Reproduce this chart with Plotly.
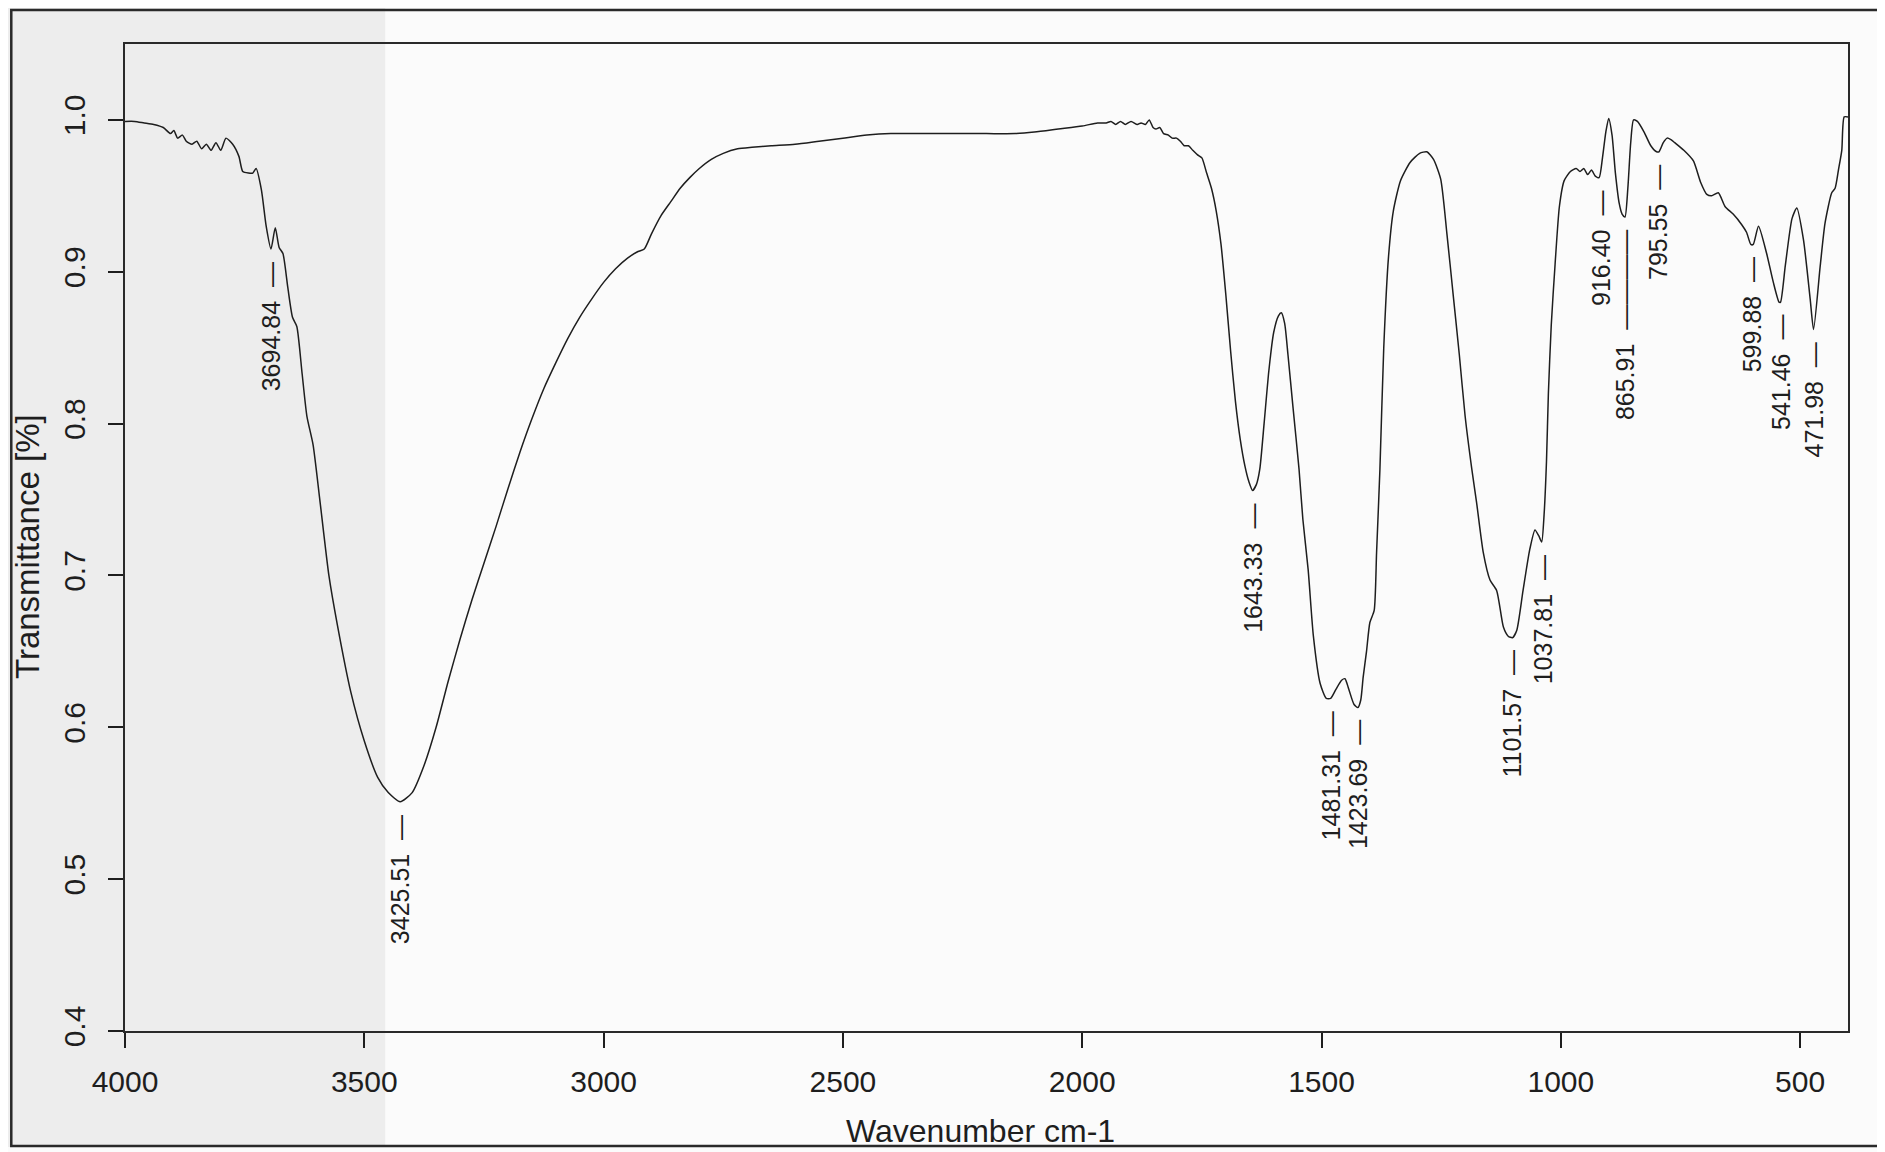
import plotly.graph_objects as go

# ---------------- data ----------------
wavenumber = [
    4000, 3980, 3960, 3940, 3920, 3905, 3898, 3890, 3880, 3872, 3860, 3850, 3840, 3830, 3820,
    3810, 3800, 3789, 3775, 3762, 3754, 3742, 3733, 3726, 3715, 3705, 3695, 3686, 3678, 3670,
    3660, 3650, 3641, 3630, 3620, 3607, 3593, 3574, 3556, 3528, 3500, 3472, 3450, 3425, 3400,
    3375, 3350, 3325, 3300, 3275, 3250, 3225, 3200, 3175, 3150, 3125, 3100, 3075, 3050, 3025,
    3000, 2975, 2950, 2930, 2915, 2900, 2880, 2860, 2840, 2820, 2800, 2775, 2750, 2720, 2690,
    2650, 2600, 2550, 2500, 2450, 2400, 2300, 2200, 2140, 2100, 2050, 2000, 1968, 1950, 1940,
    1930, 1920, 1910, 1898, 1885, 1877, 1868, 1860, 1852, 1846, 1838, 1830, 1820, 1812, 1803,
    1795, 1787, 1778, 1769, 1759, 1750, 1740, 1730, 1720, 1710, 1700, 1690, 1680, 1670, 1660,
    1652, 1644, 1636, 1629, 1620, 1610, 1600, 1590, 1584, 1577, 1570, 1560, 1547, 1539, 1528,
    1517, 1503, 1490, 1481, 1470, 1458, 1451, 1443, 1432, 1424, 1418, 1413, 1406, 1399, 1390,
    1385, 1378, 1370, 1360, 1350, 1335, 1315, 1295, 1280, 1266, 1251, 1238, 1225, 1212, 1200,
    1186, 1176, 1162, 1148, 1134, 1120, 1110, 1101, 1092, 1079, 1065, 1054, 1046, 1040, 1035,
    1030, 1026, 1020, 1012, 1003, 993, 980, 968, 960, 952, 944, 936, 928, 920, 913,
    906, 900, 893, 886, 878, 872, 866, 860, 854, 848, 840, 826, 812, 800, 795,
    786, 778, 770, 762, 743, 723, 708, 695, 685, 671, 657, 640, 622, 612, 603,
    598, 587, 570, 556, 544, 541, 531, 517, 507, 493, 479, 472, 458, 448, 434,
    427, 420, 413, 408, 400,
]
transmittance = [
    0.999, 0.999, 0.998, 0.997, 0.995, 0.991, 0.993, 0.988, 0.990, 0.986, 0.984, 0.986, 0.981, 0.984, 0.980,
    0.985, 0.980, 0.988, 0.984, 0.976, 0.966, 0.965, 0.965, 0.968, 0.954, 0.930, 0.915, 0.929, 0.916, 0.912,
    0.890, 0.870, 0.864, 0.833, 0.805, 0.786, 0.750, 0.700, 0.667, 0.623, 0.591, 0.567, 0.557, 0.551, 0.557,
    0.575, 0.600, 0.630, 0.658, 0.684, 0.708, 0.732, 0.757, 0.781, 0.803, 0.823, 0.840, 0.856, 0.870, 0.882,
    0.893, 0.902, 0.909, 0.913, 0.915, 0.925, 0.937, 0.946, 0.955, 0.962, 0.968, 0.974, 0.978, 0.981, 0.982,
    0.983, 0.984, 0.986, 0.988, 0.990, 0.991, 0.991, 0.991, 0.991, 0.992, 0.994, 0.996, 0.998, 0.998, 0.999,
    0.997, 0.999, 0.997, 0.999, 0.997, 0.998, 0.997, 1.000, 0.995, 0.994, 0.995, 0.991, 0.990, 0.988, 0.988,
    0.986, 0.983, 0.983, 0.980, 0.977, 0.975, 0.965, 0.955, 0.940, 0.918, 0.885, 0.848, 0.815, 0.790, 0.772,
    0.762, 0.756, 0.760, 0.770, 0.800, 0.835, 0.860, 0.871, 0.873, 0.866, 0.845, 0.812, 0.770, 0.737, 0.704,
    0.660, 0.629, 0.619, 0.619, 0.625, 0.631, 0.632, 0.625, 0.615, 0.613, 0.618, 0.633, 0.650, 0.669, 0.677,
    0.715, 0.770, 0.850, 0.910, 0.940, 0.960, 0.972, 0.978, 0.979, 0.974, 0.961, 0.925, 0.885, 0.845, 0.805,
    0.770, 0.748, 0.715, 0.697, 0.690, 0.666, 0.660, 0.659, 0.664, 0.690, 0.717, 0.730, 0.726, 0.722, 0.740,
    0.775, 0.820, 0.865, 0.905, 0.943, 0.960, 0.966, 0.968, 0.966, 0.968, 0.964, 0.967, 0.963, 0.962, 0.975,
    0.992, 1.001, 0.990, 0.965, 0.945, 0.938, 0.936, 0.955, 0.985, 1.000, 0.999, 0.992, 0.983, 0.979, 0.979,
    0.985, 0.988, 0.987, 0.985, 0.980, 0.973, 0.959, 0.951, 0.950, 0.952, 0.943, 0.938, 0.931, 0.926, 0.918,
    0.918, 0.930, 0.912, 0.893, 0.880, 0.880, 0.904, 0.935, 0.942, 0.921, 0.882, 0.862, 0.904, 0.932, 0.952,
    0.955, 0.967, 0.980, 1.002, 1.002,
]

peak_wavenumber = [3694.84, 3425.51, 1643.33, 1481.31, 1423.69, 1101.57, 1037.81,
                   916.40, 865.91, 795.55, 599.88, 541.46, 471.98]
peak_transmittance = [0.9145, 0.551, 0.756, 0.619, 0.613, 0.659, 0.722,
                      0.962, 0.936, 0.979, 0.918, 0.880, 0.862]

x_ticks = [4000, 3500, 3000, 2500, 2000, 1500, 1000, 500]
y_ticks = [0.4, 0.5, 0.6, 0.7, 0.8, 0.9, 1.0]
y_tick_text = ["0.4", "0.5", "0.6", "0.7", "0.8", "0.9", "1.0"]

x_title = "Wavenumber cm-1"
y_title = "Transmittance [%]"

# ---------------- style ----------------
FONT = "Liberation Sans, Arial, Helvetica, sans-serif"
INK = "#1e1e1e"
leader_dashes = [1, 1, 1, 1, 1, 1, 1, 1, 4, 1, 1, 1, 1]   # length of each label's leader

fig = go.Figure()
fig.add_trace(go.Scatter(
    x=wavenumber, y=transmittance, mode="lines",
    line=dict(color=INK, width=1.5, shape="spline", smoothing=0.6),
    hoverinfo="skip", showlegend=False,
))

annotations = []
for wn, t, nd in zip(peak_wavenumber, peak_transmittance, leader_dashes):
    annotations.append(dict(
        x=wn, y=t, xref="x", yref="y", showarrow=False,
        text=f"{wn:.2f}" + "\u00a0\u00a0" + "\u2014" * nd,
        textangle=-90, xanchor="center", yanchor="top", yshift=-11,
        font=dict(family=FONT, size=25, color=INK),
    ))

annotations.append(dict(
    x=-0.0565, y=0.491, xref="paper", yref="paper", showarrow=False,
    text=y_title, textangle=-90, xanchor="center", yanchor="middle",
    font=dict(family=FONT, size=33, color=INK),
))
annotations.append(dict(
    x=0.4968, y=-0.1015, xref="paper", yref="paper", showarrow=False,
    text=x_title, xanchor="center", yanchor="middle",
    font=dict(family=FONT, size=32, color=INK),
))

shapes = [
    # light grey scan band on the left of the page
    dict(type="rect", xref="paper", yref="paper", x0=-0.0726, x1=0.151, y0=-0.1175, y1=1.0451,
         fillcolor="#ededed", line=dict(width=0), layer="below"),
    # outer page frame
    dict(type="rect", xref="paper", yref="paper", x0=-0.066, x1=1.03, y0=-0.1165, y1=1.0344,
         line=dict(color="#2a2a2a", width=2.5), fillcolor="rgba(0,0,0,0)", layer="above"),
]

# the page body adds an 8 px offset, so the figure is 8 px smaller and margins are shifted
fig.update_layout(
    width=1877, height=1144,
    margin=dict(l=117, r=37, t=36, b=121),
    paper_bgcolor="#fbfbfb", plot_bgcolor="rgba(0,0,0,0)",
    font=dict(family=FONT, color=INK),
    annotations=annotations, shapes=shapes,
    xaxis=dict(
        range=[4000, 400], tickvals=x_ticks, ticks="outside", ticklen=15, tickwidth=1.5,
        tickcolor=INK, showline=True, mirror=True, linecolor="#2a2a2a", linewidth=2,
        showgrid=False, zeroline=False, tickfont=dict(size=30, color=INK, family=FONT),
        ticklabelstandoff=8,
    ),
    yaxis=dict(
        range=[0.4, 1.05], tickvals=y_ticks, ticktext=y_tick_text, ticks="outside", ticklen=15,
        tickwidth=1.5, tickcolor=INK, showline=True, mirror=True, linecolor="#2a2a2a", linewidth=2,
        showgrid=False, zeroline=False, tickangle=-90,
        tickfont=dict(size=30, color=INK, family=FONT), ticklabelstandoff=11,
    ),
)

fig.write_html("out.html")
